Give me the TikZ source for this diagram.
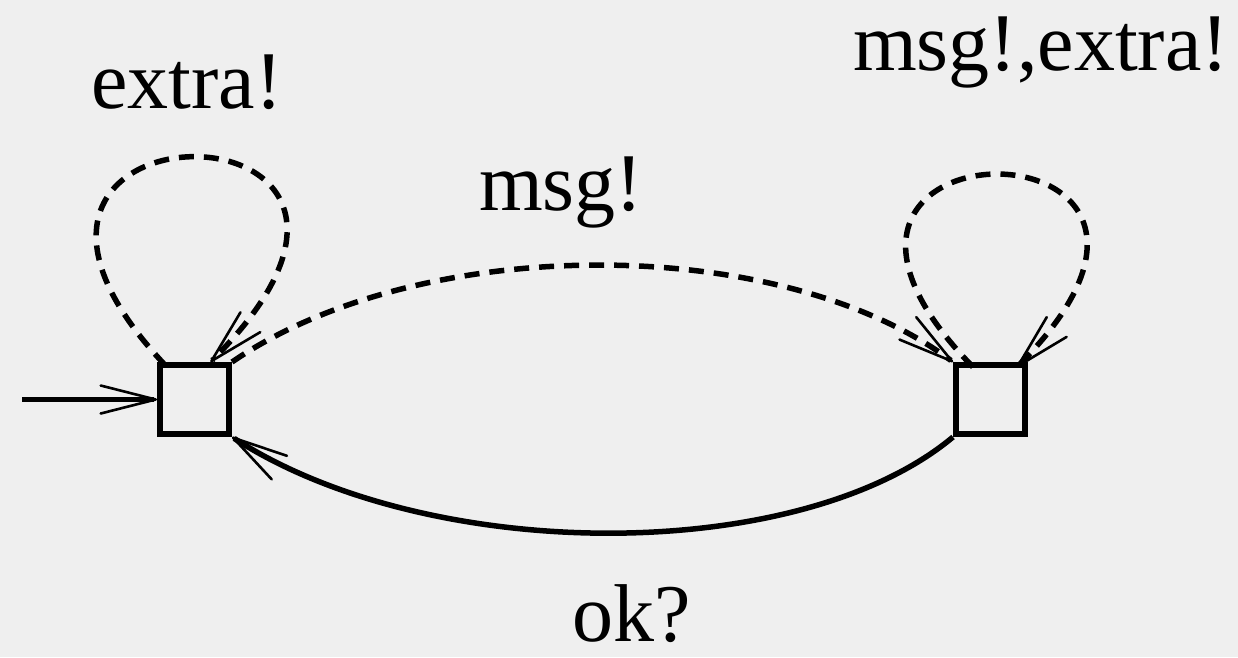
\documentclass[tikz,border=0pt]{standalone}
\usepackage{fontspec}
\setmainfont{Liberation Serif}
\usetikzlibrary{arrows.meta}
\definecolor{bg}{HTML}{EFEFEF}
\begin{document}
\begin{tikzpicture}[x=1pt,y=-1pt,
  state/.style={draw,rectangle,minimum size=69pt,inner sep=0pt,line width=6pt},
  barb/.style={-{Straight Barb[length=55pt,width=28pt,line width=2.6pt,round]}},
  solidedge/.style={line width=5.5pt,barb},
  dashededge/.style={line width=5.5pt,dash pattern=on 15pt off 10pt,barb},
  lbl/.style={font=\fontsize{82}{90}\selectfont,anchor=base,inner sep=0pt}]
  \fill[bg] (0,0) rectangle (1238,657);
  \useasboundingbox (0,0) rectangle (1238,657);

  % states
  \node[state] (L) at (194.5,399.5) {};
  \node[state] (R) at (990.5,399.5) {};
  \coordinate (start) at (22,399.5);

  % initial arrow
  \draw[solidedge] (start) -- (L.west);

  % msg! : left to right
  \draw[dashededge] (L.north east) .. controls (420,233) and (780,233) .. (R.north west);

  % ok? : right to left
  \draw[solidedge] (R.south west) .. controls (800,565) and (430,565) .. (L.south east);

  % self loops
  \draw[dashededge] ([xshift=8pt,yshift=-3pt]L.north west) .. controls (-95,88) and (485,88) .. ([xshift=16pt]L.north);
  \draw[dashededge] ([xshift=20pt,yshift=-5pt]R.north west) .. controls (722,110) and (1272,110) .. ([xshift=-11pt,yshift=-5pt]R.north east);

  % labels
  \node[lbl] (l1) at (187,108) {extra!};
  \node[lbl] (l2) at (1041,70) {msg!,extra!};
  \node[lbl] (l3) at (561,210) {msg!};
  \node[lbl] (l4) at (632,641) {ok?};
\end{tikzpicture}
\end{document}
